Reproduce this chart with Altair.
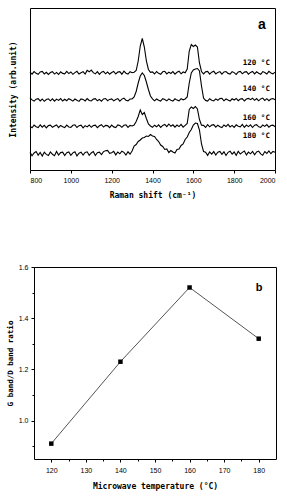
import altair as alt
import pandas as pd

# ---- Panel (a): Raman spectra, one trace per microwave temperature ----
raman_shift = list(range(800, 2001, 10))  # cm^-1 sampling grid

i120 = [
    0.8, -1.2, 1.4, -0.3, -1.3, 1.0, 1.6, -0.9, 0.7, -1.4,
    0.5, 1.3, -1.1, 0.6, -1.5, 1.2, -0.4, -0.9, 1.6, -0.6,
    1.0, -1.3, 0.4, 1.7, -1.0, 0.2, 1.4, -1.1, 2.6, 1.2,
    2.9, 0.3, -0.9, 1.3, -1.4, 0.8, 1.5, -0.8, 1.0, -1.2,
    0.5, 1.6, -1.0, 0.9, 1.4, -1.2, 1.8, -0.2, -1.0, 1.3,
    0.3, 0.8, 2.5, 12.0, 27.0, 34.5, 26.0, 12.0, 3.5, 0.6,
    1.1, -1.0, 1.5, -0.3, -1.3, 1.2, 1.7, -0.9, 0.9, -0.5,
    1.4, -1.1, 0.7, 1.8, -0.8, 1.0, 0.2, 4.0, 22.0, 28.5,
    26.5, 28.0, 26.0, 10.0, 1.5, -0.9, 1.2, 1.6, -1.1, 0.8,
    1.7, -0.9, 0.6, 1.4, -1.2, 1.0, 1.5, -0.4, -1.0, 1.3,
    0.4, -1.4, 1.1, 1.6, -0.8, 0.9, 1.4, -1.1, 0.6, 1.5,
    -0.9, 1.2, -0.2, -1.3, 1.4, 0.5, -1.0, 1.7, 0.1, -0.8,
    0.9,
]

i140 = [
    2.0, 0.1, -1.1, 0.8, 1.3, -0.9, 1.0, -1.3, 0.4, 1.2,
    -0.8, 1.1, -1.2, 0.9, -0.4, 1.4, -1.0, 0.7, -0.7, 1.3,
    0.2, -1.1, 1.0, -0.3, -1.4, 1.1, 0.6, -0.9, 1.4, -0.5,
    -1.0, 0.9, 1.3, -0.8, 0.6, -1.2, 1.0, 1.5, -0.7, 0.6,
    1.1, -0.9, 0.5, 1.4, -1.1, 0.9, 1.8, -0.2, -0.8, 1.0,
    1.0, 3.0, 8.5, 17.0, 24.0, 27.0, 24.5, 18.0, 10.5, 4.0,
    1.2, -0.8, 1.0, -0.2, -1.1, 1.3, 0.4, -0.9, 1.1, -0.3,
    -1.0, 1.2, -0.1, -0.8, 1.4, 0.2, 1.0, 3.0, 17.0, 27.0,
    30.0, 31.0, 31.5, 29.0, 14.0, 2.0, -0.4, -1.0, 1.3, -0.2,
    -0.9, 1.1, -0.3, 1.4, 1.7, -0.8, 1.0, -0.1, -1.1, 1.2,
    0.0, 1.5, -0.7, 1.0, 1.3, -1.0, 0.9, 1.6, 0.3, 1.8,
    -0.3, 1.4, -0.8, 1.1, 1.9, -0.4, 1.3, -0.7, 1.0, 1.4,
    0.2,
]

i160 = [
    0.5, -1.3, 1.4, -0.2, -1.0, 1.6, -0.7, 1.1, -1.4, 0.9,
    1.3, -0.8, 0.4, 1.5, -1.2, 1.0, -0.3, -1.1, 1.4, -0.5,
    -0.9, 1.2, 1.7, -1.0, 0.8, 1.3, -1.3, 0.9, -0.4, 1.5,
    -0.8, 1.0, 1.4, -1.1, 0.7, 1.8, -0.6, 1.1, 0.9, -1.2,
    1.4, -0.4, -1.0, 1.6, 0.9, -0.8, 1.2, 1.7, -0.9, 1.1,
    0.5, 1.5, 5.0, 10.0, 16.5, 12.0, 14.0, 8.0, 2.5, 0.5,
    -0.8, 1.3, -0.3, 1.6, -0.9, 1.1, 2.0, -0.2, 2.5, 0.2,
    1.7, -0.7, 1.4, -0.1, 2.1, -0.6, 1.2, 3.0, 17.0, 19.5,
    18.0, 20.0, 17.5, 7.0, 1.2, 1.1, -1.0, 1.8, -0.3, 1.4,
    1.9, -0.7, 1.3, -0.2, -1.1, 1.5, 0.0, 2.2, -0.4, 1.1,
    -0.9, 1.7, 0.2, -0.3, 2.0, -0.8, 1.4, -0.1, 1.6, -1.0,
    1.3, 1.8, -0.3, -0.9, 1.5, 0.1, 1.9, -0.7, 1.0, 1.4,
    -0.2,
]

i180 = [
    1.6, -1.8, 1.0, 2.4, -1.2, 1.5, -2.0, 1.8, -0.4, -1.5,
    2.1, -0.3, -1.7, 2.5, -1.0, 1.4, 1.9, -1.6, 1.2, 2.0,
    -1.4, 1.1, 2.3, -1.9, 0.8, 1.7, -1.1, 1.5, 2.2, -1.3,
    1.0, 2.5, -1.5, 1.3, 1.9, -0.5, 2.4, 3.2, 3.6, 0.6,
    1.2, 2.6, -0.9, 2.0, 0.2, 2.8, 1.6, -1.1, 2.2, -0.2,
    3.0, 8.0, 9.5, 12.5, 14.0, 16.0, 16.5, 18.0, 17.5, 19.5,
    18.0, 17.5, 14.5, 12.5, 9.0, 7.5, 4.5, 5.0, 1.5, 3.5,
    2.0, 1.0, 4.5, 5.0, 8.5, 10.0, 14.5, 17.0, 21.5, 24.5,
    29.0, 31.0, 30.5, 24.0, 10.0, 2.5, 1.8, -1.4, 2.1, -0.2,
    2.4, -1.1, 1.8, 2.6, -0.3, 2.2, -1.5, 1.7, 2.8, -0.1,
    2.0, -1.3, 2.7, 0.0, 1.6, 3.0, -0.9, 1.9, 0.2, 2.5,
    -0.8, 2.1, 2.9, 0.1, -1.2, 2.4, 0.5, 3.1, 0.3, 2.6,
    1.8,
]

temps = ["120 \u00b0C", "140 \u00b0C", "160 \u00b0C", "180 \u00b0C"]
baselines = [97, 70, 43.5, 16]  # vertical stacking offset of each trace
spectra = [i120, i140, i160, i180]

# ---- Panel (b): G/D band intensity ratio ----
mw_temp = [120, 140, 160, 180]
gd_ratio = [0.91, 1.23, 1.52, 1.32]

# long-format table for the stacked spectra
rows = []
for t, b, s in zip(temps, baselines, spectra):
    for x, v in zip(raman_shift, s):
        rows.append({"shift": x, "temp": t, "y": v + b})
spec_df = pd.DataFrame(rows)

label_lift = [10, 11, 8.5, 18]
label_df = pd.DataFrame({
    "temp": temps,
    "shift": [1975] * 4,
    "y": [b + l for b, l in zip(baselines, label_lift)],
})

ratio_df = pd.DataFrame({"temp": mw_temp, "ratio": gd_ratio})

TITLE_FONT = "DejaVu Sans Mono"
LABEL_FONT = "Liberation Sans"

x_a = alt.X(
    "shift:Q",
    scale=alt.Scale(domain=[800, 2000], nice=False, zero=False),
    axis=alt.Axis(
        values=list(range(800, 2001, 100)),
        format="d",
        labelExpr="datum.value % 200 == 0 ? datum.label : ''",
        tickSize={"condition": {"test": "datum.value % 200 == 0", "value": 3}, "value": 2},
        labelPadding=3,
        title="Raman shift (cm\u207b\u00b9)",
        titlePadding=8,
    ),
)
y_a = alt.Y(
    "y:Q",
    scale=alt.Scale(domain=[0, 162], nice=False, zero=False),
    axis=alt.Axis(labels=False, ticks=False, title="Intensity (arb.unit)", titlePadding=13),
)

traces = alt.Chart(spec_df).mark_line(color="black", strokeWidth=1.1).encode(
    x=x_a, y=y_a, detail="temp:N"
)
temp_labels = alt.Chart(label_df).mark_text(
    align="right", baseline="middle", font=TITLE_FONT, fontWeight="bold",
    fontSize=7.5, color="black",
).encode(x="shift:Q", y="y:Q", text="temp:N")
tag_a = alt.Chart(pd.DataFrame({"t": ["a"]})).mark_text(
    font="Liberation Sans", fontWeight="bold", fontSize=14, color="black",
    baseline="middle", align="center",
).encode(x=alt.value(232), y=alt.value(17), text="t:N")

panel_a = alt.layer(traces, temp_labels, tag_a).properties(width=245, height=162)

x_b = alt.X(
    "temp:Q",
    scale=alt.Scale(domain=[115, 185], nice=False, zero=False),
    axis=alt.Axis(
        values=list(range(120, 181, 5)),
        format="d",
        labelExpr="datum.value % 10 == 0 ? datum.label : ''",
        tickSize={"condition": {"test": "datum.value % 10 == 0", "value": 3}, "value": 2},
        labelPadding=4,
        title="Microwave temperature (\u00b0C)",
        titlePadding=9,
    ),
)
y_b = alt.Y(
    "ratio:Q",
    scale=alt.Scale(domain=[0.85, 1.6], nice=False, zero=False),
    axis=alt.Axis(
        values=[0.9, 1.0, 1.1, 1.2, 1.3, 1.4, 1.5, 1.6],
        format=".1f",
        labelExpr="round(datum.value * 10) % 2 == 0 ? datum.label : ''",
        tickSize={"condition": {"test": "round(datum.value * 10) % 2 == 0", "value": 3}, "value": 2},
        labelPadding=3,
        title="G band/D band ratio",
        titleFontSize=7.5,
        titlePadding=4,
    ),
)
ratio_line = alt.Chart(ratio_df).mark_line(color="#555555", strokeWidth=1).encode(x=x_b, y=y_b)
ratio_pts = alt.Chart(ratio_df).mark_point(
    shape="square", filled=True, color="black", opacity=1, size=20
).encode(x=x_b, y=y_b)
tag_b = alt.Chart(pd.DataFrame({"t": ["b"]})).mark_text(
    font="Liberation Sans", fontWeight="bold", fontSize=11, color="black",
    baseline="middle", align="center",
).encode(x=alt.value(225), y=alt.value(21), text="t:N")

panel_b = alt.layer(ratio_line, ratio_pts, tag_b).properties(width=242, height=192)

spacer = alt.Chart(pd.DataFrame({"v": [0]})).mark_point(opacity=0).properties(
    width=4, height=192, view=alt.ViewBackground(strokeOpacity=0)
)

chart = alt.vconcat(
    panel_a,
    alt.hconcat(spacer, panel_b, spacing=0, bounds="flush"),
    spacing=97,
    bounds="flush",
).properties(
    padding={"left": 5, "top": 7, "right": 4, "bottom": 4},
    background="white",
).configure_view(
    stroke="black", strokeWidth=1
).configure_axis(
    grid=False, domain=False,
    labelFont=LABEL_FONT, labelFontSize=7, labelColor="black",
    tickColor="black", tickWidth=1,
    titleFont=TITLE_FONT, titleFontWeight="bold", titleFontSize=8, titleColor="black",
)

chart.save("out.html", embed_options={"renderer": "svg", "actions": False})
